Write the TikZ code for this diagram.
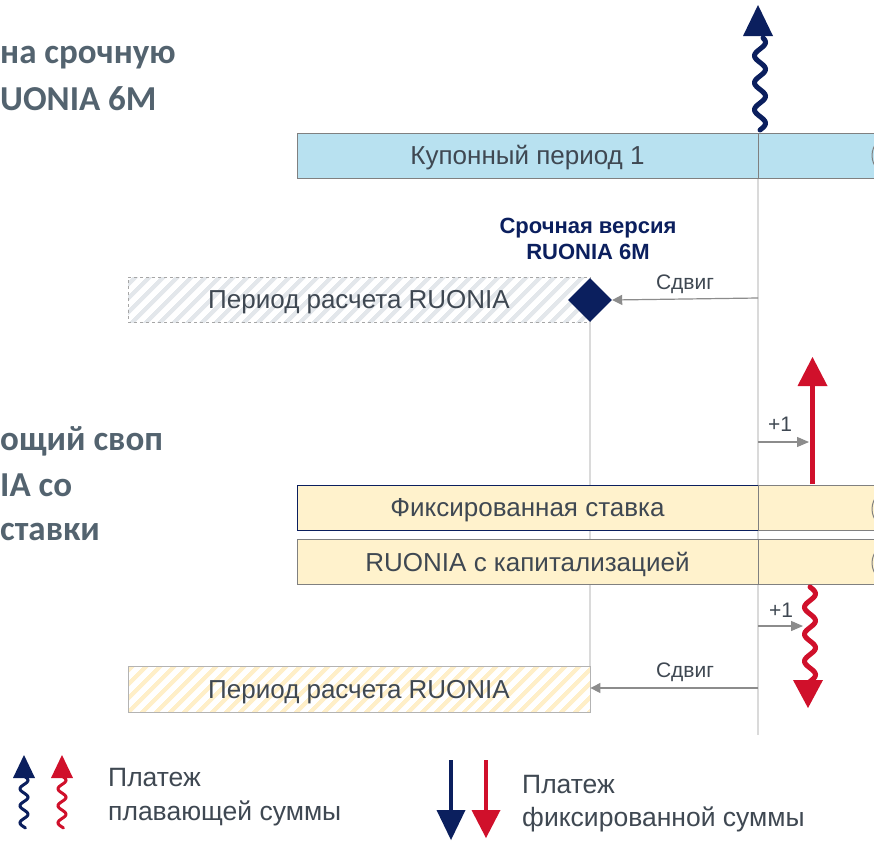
\documentclass[tikz,border=0pt]{standalone}
\usepackage{fontspec}
\setmainfont{Liberation Sans}
\newfontfamily\ttlfont{Carlito}
\usetikzlibrary{arrows.meta,patterns.meta,shapes.geometric}
\definecolor{navy}{HTML}{0B1F5E}
\definecolor{redc}{HTML}{D0102B}
\definecolor{txt}{HTML}{3F4852}
\definecolor{ttl}{HTML}{53636F}
\definecolor{bluebox}{HTML}{B8E1F0}
\definecolor{yelbox}{HTML}{FFF2CC}
\definecolor{boxgrey}{HTML}{808080}
\definecolor{vline}{HTML}{DADADA}
\definecolor{hgrey}{HTML}{E3E7EB}
\definecolor{hyel}{HTML}{FFEFC8}
\definecolor{shiftgrey}{HTML}{8C8C8C}
\newcommand{\boxsz}{\fontsize{26}{30}\selectfont}
\newcommand{\ttlsz}{\fontsize{35}{40}\selectfont}
\begin{document}
\begin{tikzpicture}[x=1pt,y=-1pt,
  pbox/.style={draw=boxgrey, line width=1pt, minimum height=45pt, inner sep=0pt, font=\boxsz, text=txt, text height=19pt, text depth=1pt},
  btext/.style={font=\boxsz, text=txt, inner sep=0pt, text height=19pt, text depth=1pt},
  ttext/.style={font=\ttlsz\ttlfont\bfseries, text=ttl, inner sep=0pt, anchor=base west},
  shiftarr/.style={draw=shiftgrey, line width=1.2pt, -{Triangle[length=10pt,width=10pt]}},
  small/.style={font=\fontsize{21}{24}\selectfont, text=txt, inner sep=0pt, anchor=base},
  wavy/.style={line width=5pt, line cap=round},
  legtext/.style={font=\fontsize{26.5}{30}\selectfont, text=txt, inner sep=0pt, anchor=base west}]
\useasboundingbox (0,0) rectangle (874,841);
\clip (0,0) rectangle (874,841);
\fill[white] (0,0) rectangle (874,841);

% titles (cropped)
\node[ttext] (t1) at (0,63) {на срочную};
\node[ttext] (t2) at (0,110) {UONIA 6M};
\node[ttext] (t3) at (0,450) {ощий своп};
\node[ttext] (t4) at (0,496) {IA со};
\node[ttext] (t5) at (0,540) {ставки};

% vertical guide lines
\coordinate (v1top) at (758,178);
\coordinate (v1bot) at (758,735);
\draw[vline, line width=1.5pt] (v1top) -- (v1bot);

% top row
\node[pbox, fill=bluebox, minimum width=461pt] (cp1) at (527.5,155.5) {Купонный период 1};
\node[pbox, fill=bluebox, minimum width=160pt, anchor=west] (cp2) at (758,155.5) {};
\draw[boxgrey, line width=1pt] (892,155.5) circle (20);

% navy wavy arrow top
\draw[navy, wavy] plot[domain=0:92, samples=90, smooth, variable=\t] ({760+5.5*sin(\t*13.333)},{130-\t});
\coordinate (nt1) at (758,5);
\fill[navy] (743,36) -- (nt1) -- (773,36) -- cycle;

% hatched box 1
\node[draw=boxgrey!70, dashed, line width=0.8pt, minimum width=462pt, minimum height=45pt, inner sep=0pt,
  pattern={Lines[angle=45,distance=10.5pt,line width=4.5pt]}, pattern color=hgrey] (hb1) at (359,299.5) {};
\node[btext] (hb1t) at (hb1) {Период расчета RUONIA};
\draw[vline, line width=1.5pt] (590,322) -- (590,666);
\node[diamond, fill=navy, minimum width=44pt, minimum height=44pt, inner sep=0pt] (dia) at (590,300) {};
\node[font=\fontsize{22}{25}\selectfont\bfseries, text=navy, align=center, inner sep=0pt] (lab6m) at (588,239) {Срочная версия\\[1pt]RUONIA 6M};
\coordinate (sh1) at (758,298);
\draw[shiftarr] (sh1) -- (dia.east);
\node[small] (sd1) at (685,289) {Сдвиг};

% red straight arrow
\coordinate (rs0) at (812.5,484);
\coordinate (rs1) at (812.5,384);
\coordinate (rst) at (812.5,357);
\draw[redc, line width=5pt] (rs0) -- (rs1);
\fill[redc] (797.5,386) -- (rst) -- (827.5,386) -- cycle;
\coordinate (p1a) at (758,442);
\coordinate (p1b) at (809,442);
\draw[shiftarr, -{Triangle[length=12pt,width=10pt]}] (p1a) -- (p1b);
\node[small] (pl1) at (780,431) {+1};

% yellow boxes
\node[pbox, draw=navy, fill=yelbox, minimum width=461pt] (fx) at (527.5,507.5) {Фиксированная ставка};
\node[pbox, fill=yelbox, minimum width=160pt, anchor=west] (fx2) at (758,507.5) {};
\node[pbox, fill=yelbox, minimum width=461pt] (ru) at (527.5,562) {RUONIA с капитализацией};
\node[pbox, fill=yelbox, minimum width=160pt, anchor=west] (ru2) at (758,562) {};
\draw[boxgrey, line width=1pt] (892,509) circle (20);
\draw[boxgrey, line width=1pt] (892,563) circle (20);

% red wavy down arrow
\draw[redc, wavy] plot[domain=0:95, samples=90, smooth, variable=\t] ({810+5.5*sin(\t*13.333)},{587+\t});
\coordinate (rwt) at (808,708);
\fill[redc] (793,680) -- (rwt) -- (823,680) -- cycle;
\coordinate (p2a) at (758,626);
\coordinate (p2b) at (803,626);
\draw[shiftarr, -{Triangle[length=12pt,width=10pt]}] (p2a) -- (p2b);
\node[small] (pl2) at (781,617) {+1};

% hatched box 2
\node[draw=boxgrey!60, line width=0.8pt, minimum width=462pt, minimum height=46pt, inner sep=0pt,
  pattern={Lines[angle=45,distance=10.5pt,line width=4.5pt]}, pattern color=hyel] (hb2) at (359,689) {};
\node[btext] (hb2t) at (hb2) {Период расчета RUONIA};
\coordinate (sh2) at (758,688);
\draw[shiftarr] (sh2) -- (hb2.east |- sh2);
\node[small] (sd2) at (685,677) {Сдвиг};

% legend
\draw[navy, line width=3pt, line cap=round] plot[domain=0:52, samples=60, smooth, variable=\t] ({24+4*sin(\t*21.18)},{776+\t});
\coordinate (lnt) at (24,755);
\fill[navy] (13,778) -- (lnt) -- (35,778) -- cycle;
\draw[redc, line width=3pt, line cap=round] plot[domain=0:52, samples=60, smooth, variable=\t] ({62+4*sin(\t*21.18)},{776+\t});
\coordinate (lrt) at (62,755);
\fill[redc] (51,778) -- (lrt) -- (73,778) -- cycle;
\node[legtext] (lg1) at (108,786) {Платеж};
\node[legtext] (lg2) at (108,820) {плавающей суммы};

\coordinate (ln0) at (451,760);
\draw[navy, line width=4.5pt] (ln0) -- (451,812);
\fill[navy] (436.5,810) -- (451,840) -- (465.5,810) -- cycle;
\coordinate (lr0) at (486,760);
\draw[redc, line width=4.5pt] (lr0) -- (486,812);
\fill[redc] (471.5,810) -- (486,838) -- (500.5,810) -- cycle;
\node[legtext] (lg3) at (522,793) {Платеж};
\node[legtext] (lg4) at (522,826) {фиксированной суммы};
\end{tikzpicture}
\end{document}
